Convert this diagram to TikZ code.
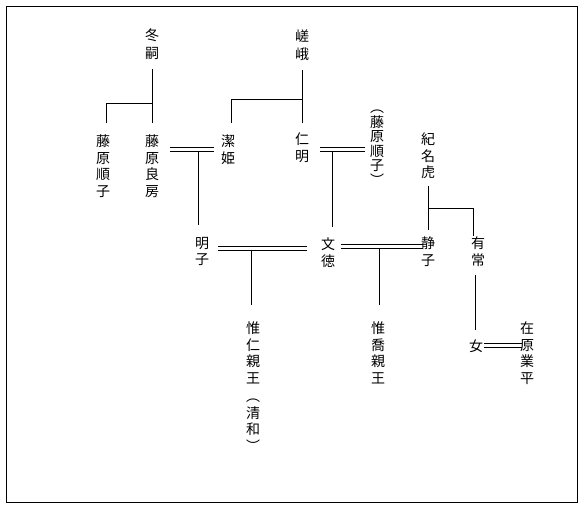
\documentclass[tikz,border=0pt]{standalone}
\usepackage{fontspec}
\newfontfamily\cjk{Noto Sans CJK JP}
\begin{document}
\begin{tikzpicture}[x=1pt,y=-1pt,
  nm/.style={font=\cjk\fontsize{14}{16.5}\selectfont, align=center, inner sep=0pt, outer sep=0pt, anchor=north},
  nmtop/.style={nm, font=\cjk\fontsize{14}{18}\selectfont},
  ln/.style={line width=0.9pt}]
\useasboundingbox (0,0) rectangle (587,509);
\draw[line width=1pt] (6.5,6.5) rectangle (577,502);

\node[nmtop] (fuyu) at (152,29) {冬\\嗣};
\node[nmtop] (saga) at (302,30) {嵯\\峨};
\node[nm] (junL) at (103,135) {藤\\原\\順\\子};
\node[nm] (yoshi) at (152,135) {藤\\原\\良\\房};
\node[nm] (kiyo) at (228,135) {潔\\姫};
\node[nm] (nin) at (302,133) {仁\\明};
\node[nm, font=\cjk\fontsize{14}{14.6}\selectfont] (junR) at (377,110) {︵\\藤\\原\\順\\子\\︶};
\node[nm] (kino) at (428,133) {紀\\名\\虎};
\node[nm] (aki) at (202,237) {明\\子};
\node[nm] (mon) at (328,238) {文\\徳};
\node[nm] (shizu) at (428,237) {静\\子};
\node[nm] (ari) at (478,237) {有\\常};
\node[nm] (kore) at (253,322) {惟\\仁\\親\\王\\[2pt]︵\\清\\和\\︶};
\node[nm] (takai) at (378,322) {惟\\喬\\親\\王};
\node[nm] (onna) at (476,340) {女};
\node[nm] (nari) at (527,322) {在\\原\\業\\平};

% marriage end points
\coordinate (m1a) at ([xshift=11pt]yoshi.east |- 0,147.5);
\coordinate (m1b) at ([xshift=-7pt]kiyo.west |- 0,147.5);
\coordinate (m2a) at ([xshift=11pt]nin.east |- 0,147.5);
\coordinate (m2b) at ([xshift=-5pt]junR.west |- 0,147.5);
\coordinate (m3a) at ([xshift=9pt]aki.east |- 0,246.5);
\coordinate (m3b) at ([xshift=-14pt]mon.west |- 0,246.5);
\coordinate (m4a) at ([xshift=6pt]mon.east |- 0,244.5);
\coordinate (m4b) at ([xshift=2pt]shizu.west |- 0,244.5);
\coordinate (m5a) at ([xshift=1pt]onna.east |- 0,343.5);
\coordinate (m5b) at ([xshift=2pt]nari.west |- 0,343.5);

% 冬嗣
\draw[ln] (fuyu |- 0,69) -- ([yshift=12pt]yoshi.north);
\draw[ln] (fuyu |- 0,103) -| ([xshift=3pt,yshift=12pt]junL.north);
% 嵯峨
\draw[ln] (saga |- 0,70) -- ([yshift=10pt]nin.north);
\draw[ln] (saga |- 0,99) -| ([xshift=3pt,yshift=12pt]kiyo.north);
% 良房 = 潔姫
\draw[ln] (m1a) -- (m1b) ([yshift=-4pt]m1a) -- ([yshift=-4pt]m1b);
\draw[ln] (198.5,151.5) -- ([xshift=-3.5pt,yshift=12pt]aki.north);
% 仁明 = 順子
\draw[ln] (m2a) -- (m2b) ([yshift=-4pt]m2a) -- ([yshift=-4pt]m2b);
\draw[ln] (332,151.5) -- ([xshift=4pt,yshift=11pt]mon.north);
% 紀名虎
\draw[ln] (kino |- 0,186) -- ([yshift=7pt]shizu.north);
\draw[ln] (kino |- 0,208) -| ([xshift=-5pt,yshift=1pt]ari.north);
% 明子 = 文徳
\draw[ln] (m3a) -- (m3b) ([yshift=-4pt]m3a) -- ([yshift=-4pt]m3b);
\draw[ln] (251,250.5) -- ([xshift=-2pt,yshift=17pt]kore.north);
% 文徳 = 静子
\draw[ln] (m4a) -- (m4b) ([yshift=-4pt]m4a) -- ([yshift=-4pt]m4b);
\draw[ln] (379,248.5) -- ([xshift=1pt,yshift=17pt]takai.north);
% 有常 - 女
\draw[ln] ([xshift=-3pt]ari |- 0,275) -- ([xshift=-1pt,yshift=10pt]onna.north);
% 女 = 業平
\draw[ln] (m5a) -- (m5b) ([yshift=-4pt]m5a) -- ([yshift=-4pt]m5b);
\end{tikzpicture}
\end{document}
